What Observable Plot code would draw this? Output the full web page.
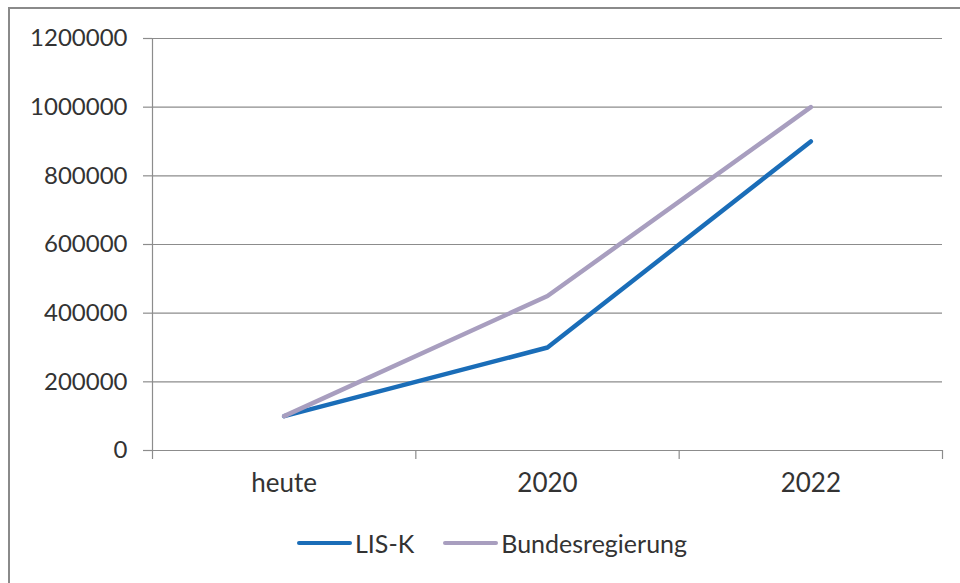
<!DOCTYPE html>
<html>
<head>
<meta charset="utf-8">
<script src="https://cdn.jsdelivr.net/npm/d3@7"></script>
<script src="https://cdn.jsdelivr.net/npm/@observablehq/plot@0.6"></script>
<style>
  html, body { margin: 0; padding: 0; width: 960px; height: 583px; overflow: hidden; background: #fff; }
  #frame { position: absolute; left: 8px; top: 7px; width: 1000px; height: 1000px; border: 2px solid #8a8a8a; box-sizing: border-box; }
  #chart { position: absolute; left: 0; top: 0; }
  #legend { position: absolute; left: 297px; top: 528px; display: flex; align-items: center; font-family: Lato, "Open Sans", sans-serif; font-size: 25px; color: #333; }
  .item { display: flex; align-items: center; margin-right: 29px; }
  .sw { width: 55px; height: 4px; border-radius: 2px; margin-right: 3px; }
</style>
</head>
<body>
<div id="frame"></div>
<div id="chart"></div>
<div id="legend"></div>
<script>
const categories = ["heute", "2020", "2022"];
const seriesNames = ["LIS-K", "Bundesregierung"];
const lisK = [100000, 300000, 900000];
const bundesregierung = [100000, 450000, 1000000];
const colors = ["#1a6db8", "#a89ebf"];
const yTicks = [0, 200000, 400000, 600000, 800000, 1000000, 1200000];

const rows = [];
[lisK, bundesregierung].forEach((vals, s) => {
  vals.forEach((v, i) => rows.push({series: seriesNames[s], x: i + 0.5, y: v}));
});
const boundaries = d3.range(categories.length + 1);
const centers = categories.map((c, i) => i + 0.5);

const font = 'Lato, "Open Sans", sans-serif';
const chart = Plot.plot({
  width: 960,
  height: 500,
  marginLeft: 152,
  marginRight: 18,
  marginTop: 38,
  marginBottom: 50,
  style: { fontFamily: font, fontSize: "24px", color: "#333", background: "transparent" },
  x: { domain: [0, categories.length] },
  y: { domain: [0, 1200000] },
  color: { domain: seriesNames, range: colors },
  marks: [
    Plot.ruleY(yTicks, { stroke: "#8c8c8c", strokeWidth: 1.2, strokeOpacity: 1 }),
    Plot.ruleX([0], { stroke: "#8c8c8c", strokeWidth: 1.2, y1: 0, y2: 1200000 }),
    Plot.axisY({ ticks: yTicks, tickSize: 9, tickPadding: 16, tickFormat: d => String(d), stroke: "#8c8c8c", strokeWidth: 1.2, strokeOpacity: 1, fill: "#333", fontSize: 24, label: null }),
    Plot.axisX({ ticks: boundaries, tickSize: 9, tickFormat: () => "", stroke: "#8c8c8c", strokeWidth: 1.2, strokeOpacity: 1, label: null }),
    Plot.axisX({ ticks: centers, tickSize: 0, tickPadding: 23, tickFormat: d => categories[Math.round(d - 0.5)], fill: "#333", fontSize: 26, label: null }),
    Plot.lineY(rows, { x: "x", y: "y", z: "series", stroke: "series", strokeWidth: 4.5, strokeLinecap: "round", strokeLinejoin: "round" })
  ]
});
document.getElementById("chart").appendChild(chart);

const legend = document.getElementById("legend");
seriesNames.forEach((name, i) => {
  const item = document.createElement("div");
  item.className = "item";
  const sw = document.createElement("div");
  sw.className = "sw";
  sw.style.background = colors[i];
  const t = document.createElement("span");
  t.textContent = name;
  item.appendChild(sw);
  item.appendChild(t);
  legend.appendChild(item);
});
</script>
</body>
</html>
